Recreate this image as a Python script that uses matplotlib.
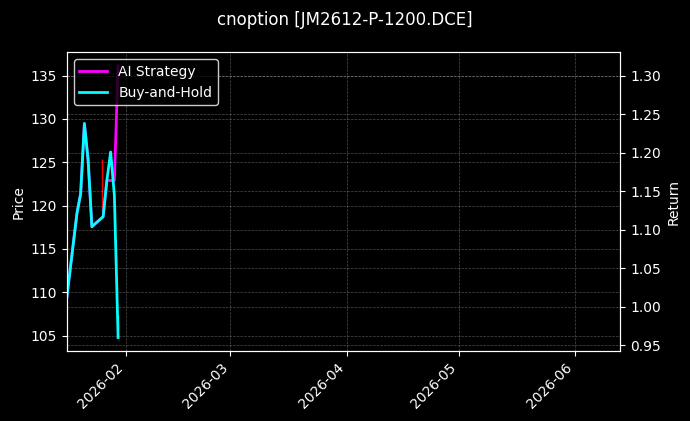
import matplotlib.pyplot as plt
import matplotlib.dates as mdates
import pandas as pd

plt.style.use('dark_background')

# Data
dates = pd.to_datetime(['2026-01-16', '2026-01-19', '2026-01-20', '2026-01-21', '2026-01-22',
                        '2026-01-23', '2026-01-26', '2026-01-27', '2026-01-28', '2026-01-29',
                        '2026-01-30'])
buy_hold = [1.000, 1.121, 1.147, 1.238, 1.190, 1.104, 1.117, 1.164, 1.201, 1.145, 0.960]
ai_strategy = [1.000, 1.121, 1.147, 1.238, 1.190, 1.104, 1.117, 1.164, 1.164, 1.164, 1.313]

# trade marks on the price axis
sell_dates = pd.to_datetime(['2026-01-25 18:00'])
sell_low = [119.2]
sell_high = [125.4]
buy_dates = pd.to_datetime(['2026-01-30'])
buy_low = [105.7]
buy_high = [107.4]

fig, ax1 = plt.subplots(figsize=(6.9, 4.21), dpi=100)
fig.subplots_adjust(left=0.097, right=0.899, top=0.876, bottom=0.166)

ax1.vlines(sell_dates, sell_low, sell_high, color='red', linewidth=1)
ax1.vlines(buy_dates, buy_low, buy_high, color='lime', linewidth=1)
ax1.set_ylim(103.2, 137.7)
ax1.set_ylabel('Price')
ax1.grid(True, linestyle='--', linewidth=0.5, alpha=0.3)

ax2 = ax1.twinx()
ax2.plot(dates, ai_strategy, color='magenta', linewidth=2, label='AI Strategy')
ax2.plot(dates, buy_hold, color='cyan', linewidth=2, label='Buy-and-Hold')
ax2.set_ylabel('Return')
ax2.grid(True, linestyle='--', linewidth=0.5, alpha=0.3)
ax2.legend(loc='upper left', facecolor='black', edgecolor='white')

ax1.set_xlim(pd.Timestamp('2026-01-16 08:00'), pd.Timestamp('2026-06-13 03:00'))
ax1.xaxis.set_major_locator(mdates.MonthLocator())
ax1.xaxis.set_major_formatter(mdates.DateFormatter('%Y-%m'))
plt.setp(ax1.get_xticklabels(), rotation=45, ha='right')

fig.suptitle('cnoption [JM2612-P-1200.DCE]', y=0.975)
plt.savefig('out.png')
